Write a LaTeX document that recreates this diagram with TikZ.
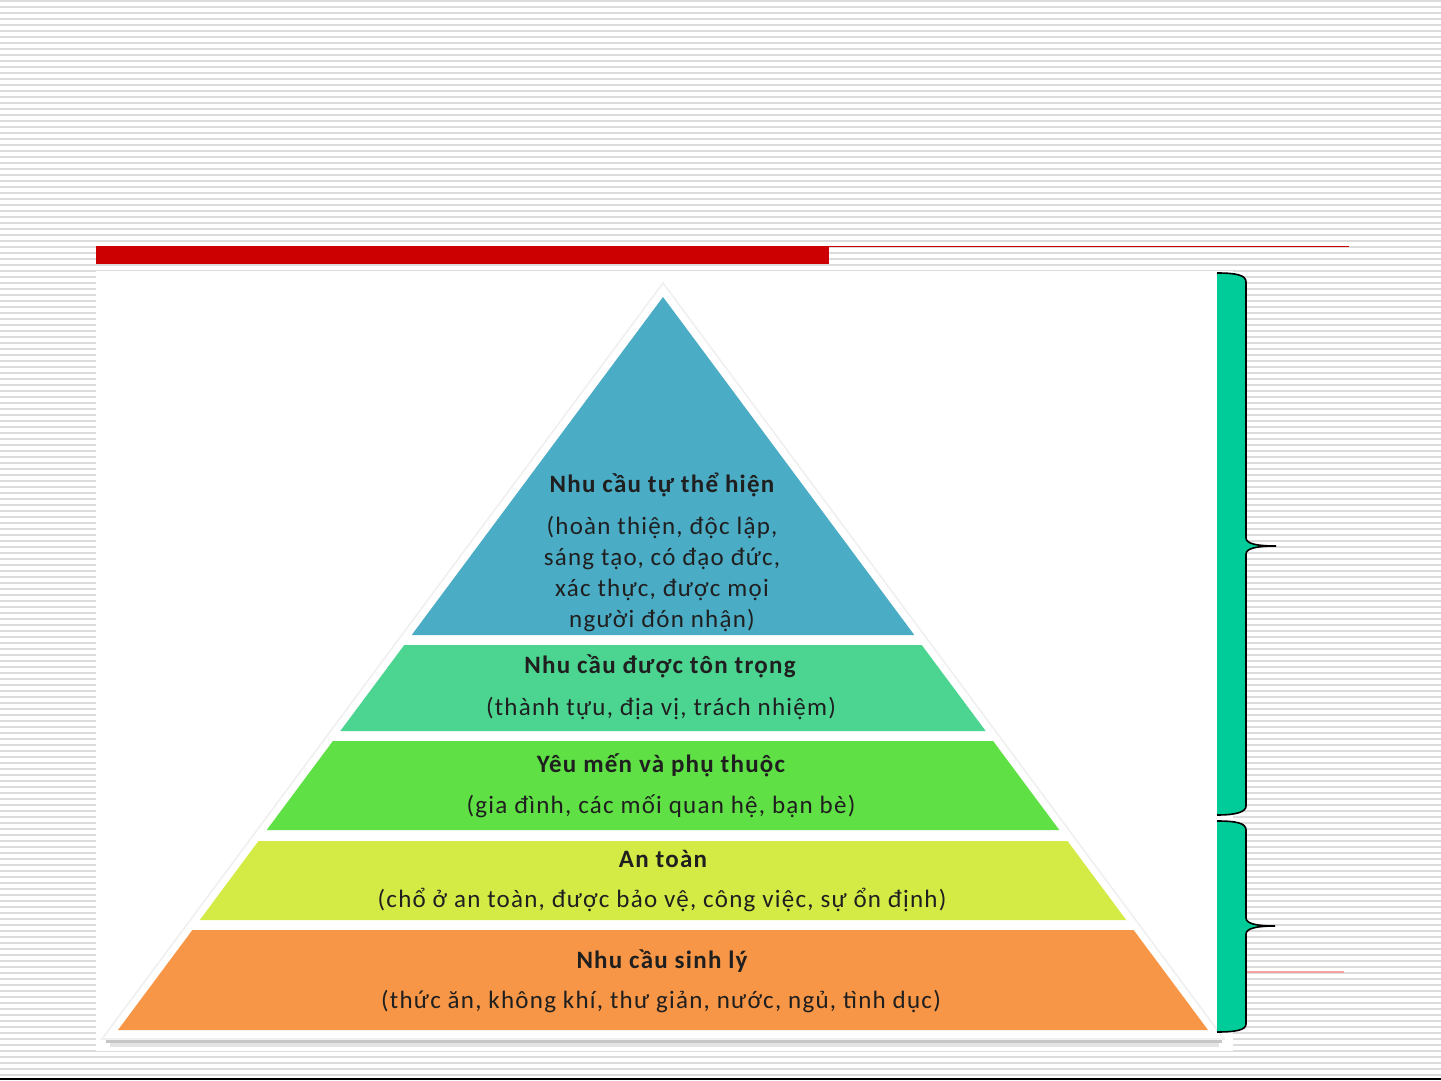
\documentclass[tikz,border=0pt]{standalone}
\usepackage{fontspec}
\setmainfont{Carlito}
\newfontfamily\pyrfont{Carlito}[LetterSpace=5.0]
\definecolor{barred}{HTML}{CC0000}
\definecolor{paleline}{HTML}{DCDCDC}
\definecolor{pinkline}{HTML}{F4A3A3}
\definecolor{lvlone}{HTML}{F79646}
\definecolor{lvltwo}{HTML}{D4EB46}
\definecolor{lvlthree}{HTML}{5FE045}
\definecolor{lvlfour}{HTML}{4CD491}
\definecolor{lvlfive}{HTML}{4BACC6}
\definecolor{bracefill}{HTML}{00CC99}
\def\txtsize{12.5}
\tikzset{
  bgline/.style={paleline, line width=0.7pt},
  ttl/.style={font=\pyrfont\bfseries\fontsize{\txtsize}{15}\selectfont, text=black!88, inner sep=0pt},
  sub/.style={font=\pyrfont\fontsize{\txtsize}{15.5}\selectfont, text=black!88, align=center, inner sep=0pt},
  braceline/.style={black, line width=0.8pt}
}

\begin{document}
\begin{tikzpicture}[x=0.5pt, y=-0.5pt]
  \useasboundingbox (0,0) rectangle (1441,1081);
  \fill[white] (0,0) rectangle (1441,1081);
  \foreach \y in {1,7,...,1075}
    \draw[bgline] (0,\y) -- (1441,\y);
  \draw[black, line width=1pt] (0,1079) -- (1441,1079);

  \fill[barred] (96,246) rectangle (829,264);
  \draw[barred, line width=0.6pt] (829,246.5) -- (1349,246.5);
  \draw[pinkline, line width=0.6pt] (1246,972) -- (1344,972);

  \fill[white] (96,271) rectangle (1233,1051);

  % pyramid frame
  \draw[gray!45, line width=2pt] (106,1041) -- (1222,1041);
  \draw[gray!22, line width=2pt] (110,1044.5) -- (1219,1044.5);
  \filldraw[fill=white, draw=gray!12, line width=0.8pt] (663,283) -- (1224,1039) -- (102,1039) -- cycle;

  \fill[lvlfive]  (663,297) -- (914.3,635) -- (411.7,635) -- cycle;
  \fill[lvlfour]  (404.3,645) -- (921.7,645) -- (985.7,731) -- (340.3,731) -- cycle;
  \fill[lvlthree] (332.9,741) -- (993.1,741) -- (1059.3,830) -- (266.7,830) -- cycle;
  \fill[lvltwo]   (258.5,841) -- (1067.5,841) -- (1126.2,920) -- (199.8,920) -- cycle;
  \fill[lvlone]   (192.4,930) -- (1133.6,930) -- (1208,1030) -- (118,1030) -- cycle;

  \node[ttl] (selfTtl) at (662,485) {Nhu cầu tự thể hiện};
  \node[sub] (selfSub) at (662,574) {(hoàn thiện, độc lập,\\sáng tạo, có đạo đức,\\xác thực, được mọi\\người đón nhận)};
  \node[ttl] (esteemTtl) at (660,666) {Nhu cầu được tôn trọng};
  \node[sub] (esteemSub) at (661,708) {(thành tựu, địa vị, trách nhiệm)};
  \node[ttl] (loveTtl) at (661,765) {Yêu mến và phụ thuộc};
  \node[sub] (loveSub) at (661,806) {(gia đình, các mối quan hệ, bạn bè)};
  \node[ttl] (safeTtl) at (663,859) {An toàn};
  \node[sub] (safeSub) at (662,900) {(chổ ở an toàn, được bảo vệ, công việc, sự ổn định)};
  \node[ttl] (bodyTtl) at (662,961) {Nhu cầu sinh lý};
  \node[sub] (bodySub) at (661,1001) {(thức ăn, không khí, thư giản, nước, ngủ, tình dục)};

  % braces
  \fill[bracefill] (1217,273) .. controls (1236,273) and (1246,275) .. (1246,282)
    -- (1246,538) .. controls (1246,544) and (1258,546) .. (1276,546)
    .. controls (1258,546) and (1246,548) .. (1246,554)
    -- (1246,806) .. controls (1246,812) and (1236,815) .. (1217,815) -- cycle;
  \draw[braceline] (1217,273) .. controls (1236,273) and (1246,275) .. (1246,282)
    -- (1246,538) .. controls (1246,544) and (1258,546) .. (1276,546)
    .. controls (1258,546) and (1246,548) .. (1246,554)
    -- (1246,806) .. controls (1246,812) and (1236,815) .. (1217,815);
  \fill[bracefill] (1217,821) .. controls (1236,821) and (1246,823) .. (1246,830)
    -- (1246,918) .. controls (1246,924) and (1258,926) .. (1275,926)
    .. controls (1258,926) and (1246,928) .. (1246,934)
    -- (1246,1024) .. controls (1246,1030) and (1236,1032) .. (1217,1032) -- cycle;
  \draw[braceline] (1217,821) .. controls (1236,821) and (1246,823) .. (1246,830)
    -- (1246,918) .. controls (1246,924) and (1258,926) .. (1275,926)
    .. controls (1258,926) and (1246,928) .. (1246,934)
    -- (1246,1024) .. controls (1246,1030) and (1236,1032) .. (1217,1032);
\end{tikzpicture}
\end{document}
